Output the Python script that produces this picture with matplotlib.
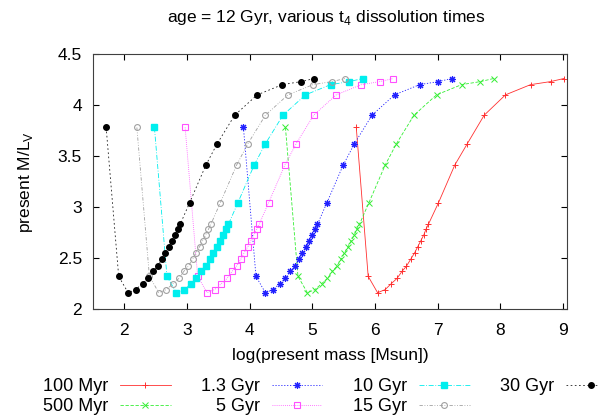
import numpy as np
import matplotlib.pyplot as plt

plt.rcParams['font.family'] = ['Liberation Sans', 'DejaVu Sans']

# present M/L_V, same sequence of sampled values for every dissolution time
ml_v = [3.78, 2.32, 2.16, 2.19, 2.25, 2.30, 2.37, 2.42, 2.49, 2.55, 2.61, 2.67,
        2.73, 2.78, 2.83, 3.04, 3.41, 3.62, 3.90, 4.10, 4.20, 4.23, 4.26]

# log(present mass) for each t4
logm_100myr = [5.70, 5.89, 6.04, 6.16, 6.26, 6.35, 6.43, 6.50, 6.57, 6.63, 6.68, 6.73,
               6.78, 6.81, 6.85, 7.01, 7.27, 7.47, 7.74, 8.08, 8.48, 8.80, 9.01]
logm_500myr = [4.57, 4.77, 4.92, 5.04, 5.15, 5.24, 5.32, 5.39, 5.46, 5.51, 5.57, 5.62,
               5.67, 5.71, 5.75, 5.90, 6.16, 6.34, 6.62, 6.98, 7.38, 7.68, 7.89]
logm_1_3gyr = [3.90, 4.10, 4.25, 4.37, 4.48, 4.57, 4.65, 4.72, 4.79, 4.84, 4.90, 4.95,
               5.00, 5.04, 5.08, 5.23, 5.49, 5.67, 5.95, 6.31, 6.71, 7.01, 7.22]
logm_5gyr = [2.97, 3.17, 3.32, 3.44, 3.55, 3.64, 3.72, 3.79, 3.86, 3.91, 3.97, 4.02,
             4.07, 4.11, 4.15, 4.30, 4.56, 4.74, 5.02, 5.38, 5.78, 6.08, 6.29]
logm_10gyr = [2.48, 2.68, 2.83, 2.95, 3.06, 3.15, 3.23, 3.30, 3.37, 3.42, 3.48, 3.53,
              3.58, 3.62, 3.66, 3.81, 4.07, 4.25, 4.53, 4.89, 5.29, 5.59, 5.80]
logm_15gyr = [2.20, 2.40, 2.55, 2.67, 2.78, 2.87, 2.95, 3.02, 3.09, 3.14, 3.20, 3.25,
              3.30, 3.34, 3.38, 3.53, 3.79, 3.97, 4.25, 4.61, 5.01, 5.31, 5.52]
logm_30gyr = [1.71, 1.91, 2.06, 2.18, 2.29, 2.38, 2.46, 2.53, 2.60, 2.65, 2.71, 2.76,
              2.81, 2.85, 2.89, 3.04, 3.30, 3.48, 3.76, 4.12, 4.52, 4.82, 5.03]

fig = plt.figure(figsize=(5.98, 4.19), dpi=100)
ax = fig.add_axes([0.1555, 0.2625, 0.7925, 0.6085])

lw = 0.6
fs = 12.5
ax.plot(logm_100myr, ml_v, '-', color='#ff3030', lw=lw, marker='+', ms=5, mew=0.7, label='100 Myr')
ax.plot(logm_500myr, ml_v, color='#33ee33', lw=lw, dashes=(4, 2), marker='x', ms=4, mew=0.7, label='500 Myr')
ax.plot(logm_1_3gyr, ml_v, color='#2020ff', lw=lw, dashes=(1.5, 2), marker=(8, 2, 0), ms=5, mew=0.8, label='1.3 Gyr')
ax.plot(logm_5gyr, ml_v, color='#ff50ff', lw=lw, dashes=(1, 1.5), marker='s', ms=4.2, mfc='none', mec='#ff50ff', mew=0.8, label='5 Gyr')
ax.plot(logm_10gyr, ml_v, color='#00eeee', lw=lw, dashes=(6, 2, 1, 2), marker='s', ms=4, mec='#00eeee', label='10 Gyr')
ax.plot(logm_15gyr, ml_v, color='#a0a0a0', lw=lw, dashes=(4, 2, 1, 2, 1, 2), marker='o', ms=4.2, mfc='none', mec='#a0a0a0', mew=0.8, label='15 Gyr')
ax.plot(logm_30gyr, ml_v, color='#202020', lw=lw, dashes=(2, 3), marker='o', ms=4, mfc='black', mec='black', label='30 Gyr')

ax.set_xlim(1.5, 9.06)
ax.set_ylim(2, 4.5)
ax.set_xticks(range(2, 10))
ax.set_yticks([2, 2.5, 3, 3.5, 4, 4.5])
ax.set_yticklabels(['2', '2.5', '3', '3.5', '4', '4.5'])
ax.tick_params(direction='in', top=True, right=True, length=4, labelsize=fs)
ax.tick_params(axis='x', pad=10)
ax.tick_params(axis='y', pad=8)
for s in ax.spines.values():
    s.set_color('#404040')

ax.set_xlabel('log(present mass [Msun])', fontsize=fs, labelpad=7)
ax.set_ylabel('present M/L$_\\mathregular{V}$', fontsize=fs, labelpad=16)
fig.text(0.545, 0.958, 'age = 12 Gyr, various t$_\\mathregular{4}$ dissolution times',
         ha='center', va='center', fontsize=fs)

fig.legend(loc='upper left', bbox_to_anchor=(0.072, 0.097), ncol=4, markerfirst=False,
           frameon=False, fontsize=13, handlelength=2.8, handletextpad=0.65,
           columnspacing=1.7, labelspacing=0.15, borderpad=0, borderaxespad=0)

plt.savefig('out.png', dpi=100)
